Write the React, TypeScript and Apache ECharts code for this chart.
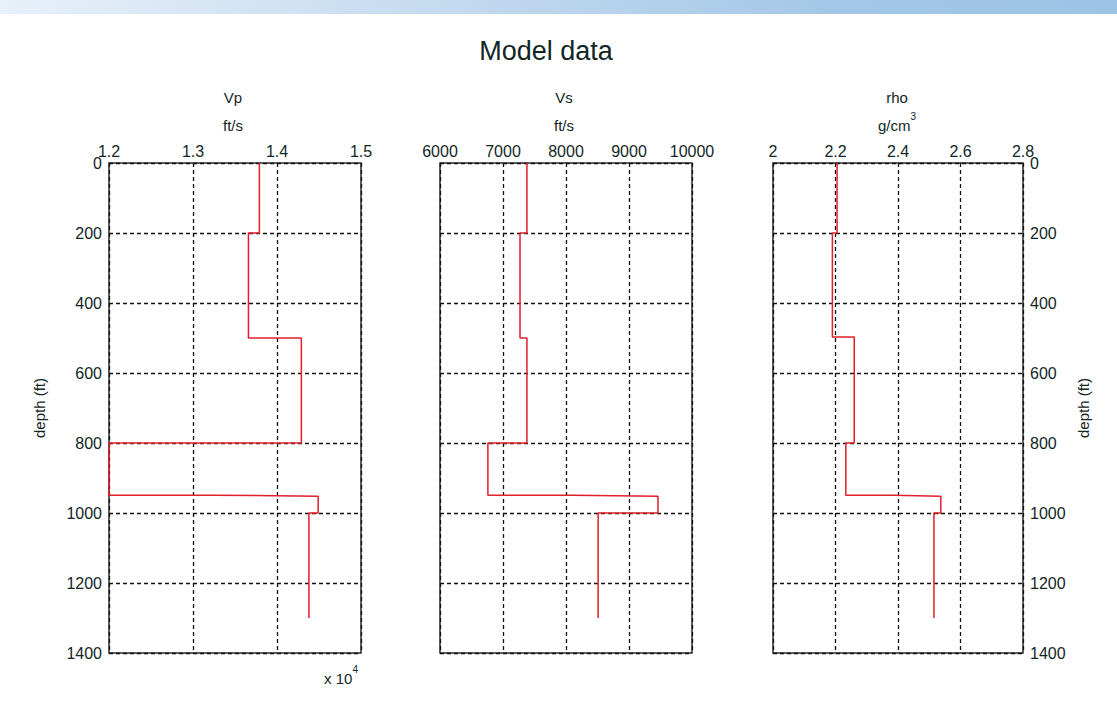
import React, { useEffect, useRef } from "react";
import * as echarts from "echarts";

// ---- data ----
const depthTicks = [0, 200, 400, 600, 800, 1000, 1200, 1400];

// Vp (x 10^4 ft/s)
const vpDepth = [0, 200, 200, 500, 500, 800, 800, 949, 949, 952, 1000, 1000, 1300];
const vpValues = [1.379, 1.379, 1.366, 1.366, 1.429, 1.429, 1.2, 1.2, 1.326, 1.449, 1.449, 1.438, 1.438];

// Vs (ft/s)
const vsDepth = [0, 200, 200, 500, 500, 800, 800, 949, 949, 952, 1000, 1000, 1300];
const vsValues = [7380, 7380, 7270, 7270, 7380, 7380, 6760, 6760, 8110, 9460, 9460, 8510, 8510];

// rho (g/cm3)
const rhoDepth = [0, 200, 200, 497, 497, 800, 800, 949, 949, 952, 1000, 1000, 1300];
const rhoValues = [2.205, 2.205, 2.19, 2.19, 2.26, 2.26, 2.233, 2.233, 2.385, 2.537, 2.537, 2.515, 2.515];

const vpTicks = ["1.2", "1.3", "1.4", "1.5"];
const vsTicks = ["6000", "7000", "8000", "9000", "10000"];
const rhoTicks = ["2", "2.2", "2.4", "2.6", "2.8"];

const FONT = '"Liberation Sans", Arial, sans-serif';
const TXT = "#122626";
const LINE = "#2a2a2a";
const RED = "#e0202c";

const zip = (xs: number[], ys: number[]) => xs.map((x, i) => [x, ys[i]]);

export default function App() {
  const ref = useRef<HTMLDivElement>(null);
  useEffect(() => {
    if (!ref.current) return;
    const chart = echarts.init(ref.current, undefined, { renderer: "svg" });

    const grids = [
      { left: 109, top: 163, width: 252, height: 490 },
      { left: 440, top: 163, width: 252, height: 490 },
      { left: 773, top: 163, width: 250, height: 490 },
    ].map((g) => ({ ...g, show: true, borderColor: LINE, borderWidth: 1.5, backgroundColor: "transparent" }));

    const dashed = { show: true, lineStyle: { color: "#111", type: [4, 3], width: 1.3 } };
    const labelStyle = { color: TXT, fontSize: 16, fontFamily: FONT };

    const xCommon = (min: number, max: number, interval: number, fmt: (v: number) => string, idx: number) => ({
      type: "value",
      gridIndex: idx,
      position: "top",
      min,
      max,
      interval,
      axisLine: { show: false },
      axisTick: { show: false },
      splitLine: dashed,
      axisLabel: { ...labelStyle, margin: 4, formatter: fmt, showMinLabel: true, showMaxLabel: true },
    });

    const yCommon = (idx: number, show: boolean, pos: string) => ({
      type: "value",
      gridIndex: idx,
      inverse: true,
      min: depthTicks[0],
      max: depthTicks[depthTicks.length - 1],
      interval: depthTicks[1] - depthTicks[0],
      position: pos,
      axisLine: { show: false },
      axisTick: { show: false },
      splitLine: dashed,
      axisLabel: {
        ...labelStyle,
        show,
        margin: 7,
        showMinLabel: true,
        showMaxLabel: true,
        formatter: (v: number) => {
          const i = depthTicks.indexOf(Math.round(v));
          return i >= 0 ? String(depthTicks[i]) : String(v);
        },
      },
    });

    const lineSeries = (data: number[][], idx: number) => ({
      type: "line",
      xAxisIndex: idx,
      yAxisIndex: idx,
      data,
      showSymbol: false,
      symbol: "none",
      lineStyle: { color: RED, width: 1.5 },
      clip: false,
    });

    const txt = (text: string, x: number, y: number, size: number, extra: any = {}) => ({
      type: "text",
      x,
      y,
      style: { text, fontSize: size, fontFamily: FONT, fill: TXT, align: "center", verticalAlign: "middle", ...extra },
    });

    const supRich = {
      b: { fontSize: 15, fontFamily: FONT, fill: TXT, lineHeight: 22, verticalAlign: "bottom" },
      s: { fontSize: 10, fontFamily: FONT, fill: TXT, lineHeight: 10, verticalAlign: "top" },
    };

    chart.setOption({
      animation: false,
      backgroundColor: "#fff",
      grid: grids,
      xAxis: [
        xCommon(1.2, 1.5, 0.1, (v: number) => {
          const i = Math.round((v - 1.2) / 0.1);
          return vpTicks[i] ?? v.toFixed(1);
        }, 0),
        xCommon(6000, 10000, 1000, (v: number) => {
          const i = Math.round((v - 6000) / 1000);
          return vsTicks[i] ?? String(v);
        }, 1),
        xCommon(2, 2.8, 0.2, (v: number) => {
          const i = Math.round((v - 2) / 0.2);
          return rhoTicks[i] ?? String(v);
        }, 2),
      ],
      yAxis: [yCommon(0, true, "left"), yCommon(1, false, "left"), yCommon(2, true, "right")],
      series: [
        lineSeries(zip(vpValues, vpDepth), 0),
        lineSeries(zip(vsValues, vsDepth), 1),
        lineSeries(zip(rhoValues, rhoDepth), 2),
      ],
      graphic: [
        {
          type: "rect",
          shape: { x: 0, y: 0, width: 1117, height: 14 },
          style: {
            fill: new echarts.graphic.LinearGradient(0, 0, 1, 0, [
              { offset: 0, color: "#e8f0f9" },
              { offset: 0.75, color: "#a4c7e7" },
              { offset: 1, color: "#9cc3e6" },
            ]),
          },
          silent: true,
        },
        txt("Model data", 546, 51, 27),
        txt("Vp", 233, 97, 15),
        txt("ft/s", 233, 125, 15),
        txt("Vs", 564, 97, 15),
        txt("ft/s", 564, 125, 15),
        txt("rho", 897, 97, 15),
        txt("{b|g/cm}{s|3}", 897, 122, 15, { rich: supRich }),
        txt("{b|x 10}{s|4}", 341, 675, 15, { rich: supRich }),
        { ...txt("depth (ft)", 39, 408, 15), rotation: Math.PI / 2 },
        { ...txt("depth (ft)", 1083, 408, 15), rotation: Math.PI / 2 },
      ],
    });
    return () => chart.dispose();
  }, []);
  return <div ref={ref} style={{ position: "fixed", left: 0, top: 0, width: 1117, height: 702 }} />;
}
